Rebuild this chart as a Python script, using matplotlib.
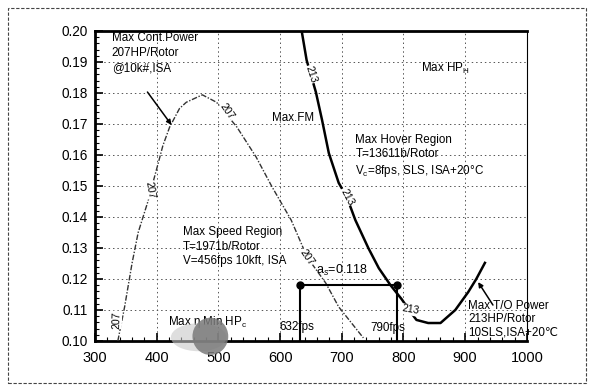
import matplotlib
matplotlib.use("Agg")
import matplotlib.pyplot as plt
from matplotlib.patches import Rectangle, Ellipse
from matplotlib.ticker import MultipleLocator

plt.rcParams['font.family'] = ['Liberation Sans', 'DejaVu Sans']
plt.rcParams['mathtext.fontset'] = 'custom'
plt.rcParams['mathtext.rm'] = 'Liberation Sans'
plt.rcParams['mathtext.it'] = 'Liberation Sans:italic'

# ---- data ----
speed_v = [337, 348, 360, 370, 385, 402, 410, 421, 437, 448, 474, 497, 530, 561, 587, 618, 644, 674, 695, 735]
speed_a = [0.100, 0.111, 0.125, 0.135, 0.1445, 0.157, 0.163, 0.169, 0.175, 0.177, 0.1794, 0.177,
           0.169, 0.1594, 0.1497, 0.139, 0.127, 0.1187, 0.111, 0.101]

hover_v = [635, 643, 658, 668, 679, 695, 708, 722, 743, 760, 779, 797, 811, 821, 840, 860, 884, 905, 918, 932]
hover_a = [0.200, 0.1906, 0.1803, 0.1713, 0.1606, 0.151, 0.1465, 0.139, 0.130, 0.1235, 0.118,
           0.1135, 0.1095, 0.1068, 0.1058, 0.1058, 0.110, 0.1158, 0.120, 0.1252]

cont_line_v = [385, 424]
cont_line_a = [0.1803, 0.1697]
to_line_v = [945, 921]
to_line_a = [0.1116, 0.119]

sol_v = [632, 790]
sol_a = 0.118

x_ticks = [300, 400, 500, 600, 700, 800, 900, 1000]
y_ticks = [0.10, 0.11, 0.12, 0.13, 0.14, 0.15, 0.16, 0.17, 0.18, 0.19, 0.20]

# ---- figure ----
fig = plt.figure(figsize=(5.9, 3.89), dpi=100)
ax = fig.add_axes([0.161, 0.1234, 0.732, 0.797])
ax.set_xlim(300, 1000)
ax.set_ylim(0.10, 0.20)
ax.set_xticks(x_ticks)
ax.set_yticks(y_ticks)
ax.set_xticklabels([str(t) for t in x_ticks], fontsize=10.5)
ax.set_yticklabels([f"{t:.2f}" for t in y_ticks], fontsize=9.8)
ax.xaxis.set_minor_locator(MultipleLocator(20))
ax.yaxis.set_minor_locator(MultipleLocator(0.002))
ax.tick_params(which='major', direction='in', length=6, width=1.2)
ax.tick_params(which='minor', direction='in', length=3, width=0.8)
ax.tick_params(axis='x', pad=7)
ax.tick_params(axis='y', pad=5)
ax.grid(True, which='major', color='#555555', linestyle=(0, (1.5, 3)), linewidth=0.7)
for s in ['left', 'bottom', 'top']:
    ax.spines[s].set_linewidth(2)
ax.spines['right'].set_linewidth(0.8)
ax.spines['right'].set_linestyle((0, (2, 1)))

# curves
ax.plot(speed_v, speed_a, color='#333333', lw=1.0, linestyle=(0, (4, 1.2, 1, 1.2)), zorder=3)
ax.plot(hover_v, hover_a, color='black', lw=1.8, zorder=3)

# pointer lines
arrow = dict(arrowstyle='-|>', color='black', lw=1.1, mutation_scale=7, shrinkA=0, shrinkB=0)
ax.annotate('', xy=(cont_line_v[1], cont_line_a[1]), xytext=(cont_line_v[0], cont_line_a[0]),
            arrowprops=arrow, zorder=4)
ax.annotate('', xy=(to_line_v[1], to_line_a[1]), xytext=(to_line_v[0], to_line_a[0]),
            arrowprops=arrow, zorder=4)

# solution box
ax.plot(sol_v, [sol_a, sol_a], color='black', lw=1.5, marker='o', markersize=5, zorder=4)
for v in sol_v:
    ax.plot([v, v], [0.10, sol_a], color='black', lw=1.5, zorder=4)

fs = 8.4
ax.text(700, 0.1203, r"a$_s$=0.118", fontsize=9, ha='center', va='bottom', zorder=5)
ax.text(627, 0.1045, "632fps", fontsize=fs, ha='center', va='center', zorder=5)
ax.text(775, 0.1042, "790fps", fontsize=fs, ha='center', va='center', zorder=5)

ax.text(327, 0.1928, "Max Cont.Power\n207HP/Rotor\n@10k#,ISA", fontsize=fs, ha='left', va='center',
        linespacing=1.35)
ax.text(587, 0.172, "Max.FM", fontsize=fs, ha='left', va='center')
ax.text(829, 0.188, r"Max HP$_{\rm H}$", fontsize=fs, ha='left', va='center')
ax.text(722, 0.1595, "Max Hover Region\nT=13611b/Rotor\nV$_{\\rm c}$=8fps, SLS, ISA+20\u00b0C",
        fontsize=fs, ha='left', va='center', linespacing=1.25)
ax.text(442, 0.1304, "Max Speed Region\nT=1971b/Rotor\nV=456fps 10kft, ISA",
        fontsize=fs, ha='left', va='center', linespacing=1.25)
ax.text(418, 0.106, "Max \u03b7 Min HP$_{\\rm c}$", fontsize=fs, ha='left', va='center', zorder=5)
ax.text(905, 0.107, "Max T/O Power\n213HP/Rotor\n10SLS,ISA+20\u2103", fontsize=fs, ha='left',
        va='center', linespacing=1.1, clip_on=False)

# inline curve labels
lab = dict(fontsize=7.5, ha='center', va='center', zorder=5,
           bbox=dict(facecolor='white', edgecolor='none', pad=0.3))
ax.text(335, 0.1068, "207", rotation=88, **lab)
ax.text(389, 0.1487, "207", rotation=-80, **lab)
ax.text(513, 0.1740, "207", rotation=-55, **lab)
ax.text(644, 0.1270, "207", rotation=-55, **lab)
ax.text(650, 0.1860, "213", rotation=-72, **lab)
ax.text(708, 0.1465, "213", rotation=-62, **lab)
ax.text(811, 0.1100, "213", rotation=-10, **lab)

# scan smudge
ax.add_patch(Ellipse((468, 0.1012), 90, 0.009, facecolor='#c8c8c8', edgecolor='none', alpha=0.6,
                     clip_on=False, zorder=6))
ax.add_patch(Ellipse((487, 0.1015), 58, 0.012, facecolor='#7a7a7a', edgecolor='none', alpha=0.85,
                     clip_on=False, zorder=6))

# outer dashed frame
fig.patches.append(Rectangle((8 / 590, 1 - 383 / 389), 578 / 590, 375 / 389, transform=fig.transFigure,
                             fill=False, edgecolor='#444444', lw=0.8, linestyle=(0, (3, 1.5))))

fig.savefig("out.png", dpi=100)
